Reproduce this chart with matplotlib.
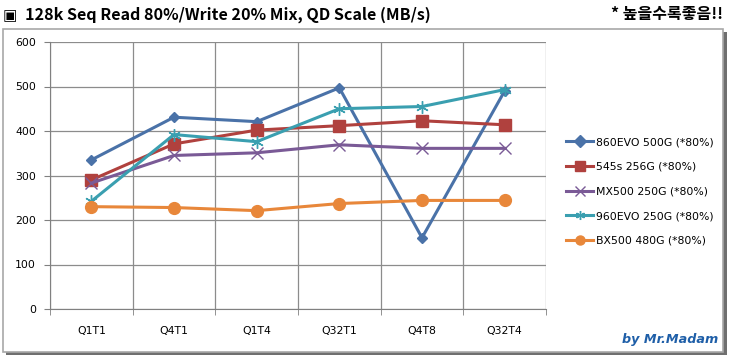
import matplotlib
matplotlib.use("Agg")
import matplotlib.pyplot as plt
from matplotlib.patches import Rectangle

plt.rcParams['font.family'] = ['DejaVu Sans', 'Noto Sans CJK KR']

categories = ["Q1T1", "Q4T1", "Q1T4", "Q32T1", "Q4T8", "Q32T4"]
series_names = ["860EVO 500G (*80%)", "545s 256G (*80%)", "MX500 250G (*80%)",
                "960EVO 250G (*80%)", "BX500 480G (*80%)"]
evo860 = [335, 431, 421, 497, 160, 490]
s545 = [290, 371, 402, 412, 423, 414]
mx500 = [283, 345, 351, 369, 361, 361]
evo960 = [242, 392, 376, 450, 455, 493]
bx500 = [230, 228, 221, 237, 244, 244]
yticks = [0, 100, 200, 300, 400, 500, 600]

W, H = 729, 357
fig = plt.figure(figsize=(W / 100, H / 100), dpi=100)

# frame with shadow
fig.patches.append(Rectangle((6 / W, 1 - 355 / H), 721 / W, 323 / H, transform=fig.transFigure,
                             facecolor="#6f6f6f", edgecolor="none", zorder=0))
fig.patches.append(Rectangle((3 / W, 1 - 352 / H), 720 / W, 323 / H, transform=fig.transFigure,
                             facecolor="white", edgecolor="#a8a8a8", linewidth=1.2, zorder=1))

ax = fig.add_axes([50 / W, 1 - 309 / H, 496 / W, 267 / H])
ax.set_zorder(2)
ax.patch.set_alpha(0)

x = list(range(len(categories)))
styles = [
    (evo860, "#4a72a8", "D", 5.5),
    (s545, "#b0413e", "s", 8),
    (mx500, "#7a5a96", "x", 8),
    (evo960, "#3a9fb0", (6, 2, 0), 9),
    (bx500, "#e8873a", "o", 8.5),
]
for (vals, col, mk, ms), name in zip(styles, series_names):
    ax.plot(x, vals, color=col, linewidth=2.2, marker=mk, markersize=ms,
            markerfacecolor=col, markeredgecolor=col, markeredgewidth=1.0, label=name, zorder=3)

ax.set_xlim(-0.5, 5.5)
ax.set_ylim(0, 600)
ax.set_yticks(yticks)
ax.set_yticklabels([str(v) for v in yticks], fontsize=7.8)
ax.set_xticks(x)
ax.set_xticklabels(categories, fontsize=7.8)
ax.tick_params(axis='x', length=0, pad=12.5)
ax.set_xticks([i + 0.5 for i in range(-1, len(categories))], minor=True)
ax.tick_params(axis='x', which='minor', length=4, color="#808080")
ax.tick_params(axis='y', length=4, color="#808080", pad=6)
ax.grid(True, axis='y', color="#8c8c8c", linewidth=0.9)
ax.grid(True, axis='x', which='minor', color="#8c8c8c", linewidth=0.9)
ax.set_axisbelow(True)
for s in ["top", "right"]:
    ax.spines[s].set_visible(False)
for s in ["left", "bottom"]:
    ax.spines[s].set_color("#808080")

leg = ax.legend(loc="upper left", bbox_to_anchor=(563 / W, 1 - 134 / H), bbox_transform=fig.transFigure,
                frameon=False, fontsize=7.8, handlelength=2.5, labelspacing=1.35, handletextpad=0.2,
                numpoints=1, borderaxespad=0, borderpad=0.3)
for h in leg.legend_handles:
    h.set_markersize(6.5)

fig.text(3 / W, 1 - 15.5 / H, "▣", fontsize=11, va="center", ha="left", family=['DejaVu Sans'])
fig.text(25 / W, 1 - 15 / H, "128k Seq Read 80%/Write 20% Mix, QD Scale (MB/s)", fontsize=11.6,
         fontweight="bold", va="center", ha="left", family=['Noto Sans CJK KR', 'DejaVu Sans'])
fig.text(723 / W, 1 - 14 / H, "* 높을수록좋음!!", fontsize=11.5, fontweight="bold",
         va="center", ha="right", family=['Noto Sans CJK KR', 'DejaVu Sans'])
fig.text(718 / W, 1 - 340 / H, "by Mr.Madam", fontsize=9.2, fontweight="bold", style="italic",
         color="#1f5fa8", va="center", ha="right", family=['DejaVu Sans'])

fig.savefig("out.png", dpi=100)
